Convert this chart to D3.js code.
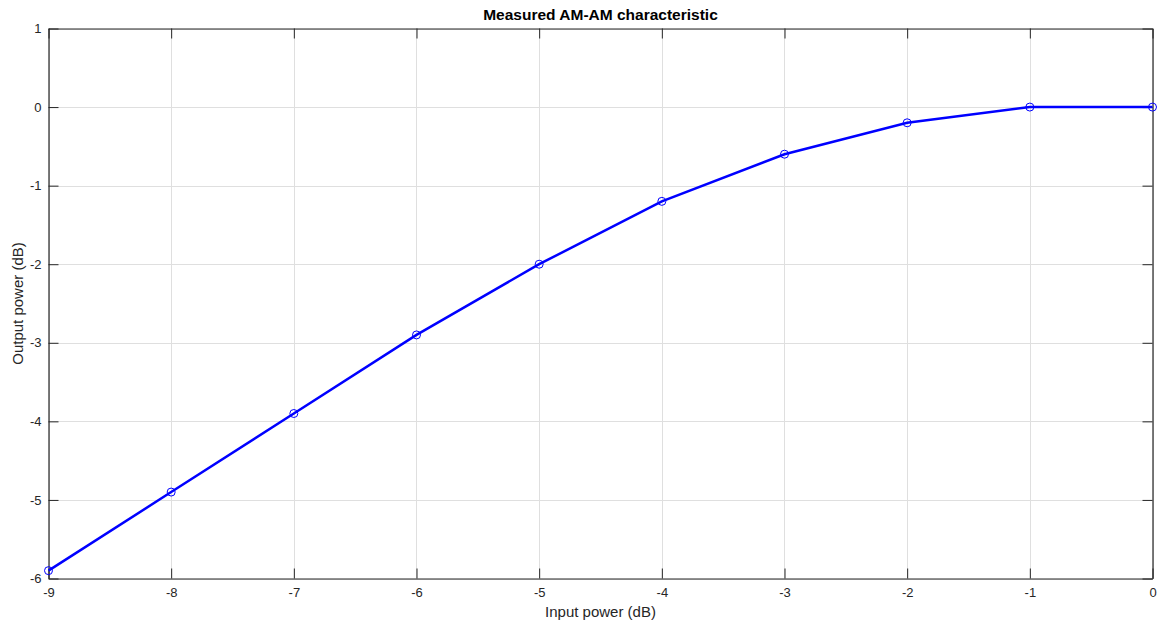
<!DOCTYPE html>
<html><head><meta charset="utf-8">
<script src="https://cdn.jsdelivr.net/npm/d3@7"></script>
<style>
body{margin:0;background:#fff;}
text{font-family:"Liberation Sans",Arial,Helvetica,sans-serif;}
</style></head>
<body><svg id="c" width="1157" height="626"></svg>
<script>
const inputPower = [-9, -8, -7, -6, -5, -4, -3, -2, -1, 0];
const outputPower = [-5.9, -4.9, -3.9, -2.9, -2.0, -1.2, -0.6, -0.2, 0, 0];
const xTicks = [-9, -8, -7, -6, -5, -4, -3, -2, -1, 0];
const yTicks = [-6, -5, -4, -3, -2, -1, 0, 1];

const L = 48.5, R = 1152.5, T = 28.5, B = 578.5;
const svg = d3.select("#c");
const x = d3.scaleLinear().domain([-9, 0]).range([L, R]);
const y = d3.scaleLinear().domain([-6, 1]).range([B, T]);
const axisCol = "#262626";
const fmt = d => String(d);

// grid
const g = svg.append("g");
g.selectAll(".gx").data(xTicks).join("line")
  .attr("x1", d => Math.round(x(d)) + 0.5).attr("x2", d => Math.round(x(d)) + 0.5)
  .attr("y1", T).attr("y2", B).attr("stroke", "#dfdfdf").attr("stroke-width", 1);
g.selectAll(".gy").data(yTicks).join("line")
  .attr("y1", d => Math.round(y(d)) + 0.5).attr("y2", d => Math.round(y(d)) + 0.5)
  .attr("x1", L).attr("x2", R).attr("stroke", "#dfdfdf").attr("stroke-width", 1);

// axes
const tickLen = 10;
const xb = svg.append("g").attr("transform", `translate(0,${B})`)
  .call(d3.axisBottom(x).tickValues(xTicks).tickSizeInner(-tickLen).tickSizeOuter(0).tickFormat(fmt));
const xt = svg.append("g").attr("transform", `translate(0,${T})`)
  .call(d3.axisTop(x).tickValues(xTicks).tickSizeInner(-tickLen).tickSizeOuter(0).tickFormat(""));
const yl = svg.append("g").attr("transform", `translate(${L},0)`)
  .call(d3.axisLeft(y).tickValues(yTicks).tickSizeInner(-tickLen).tickSizeOuter(0).tickFormat(fmt));
const yr = svg.append("g").attr("transform", `translate(${R},0)`)
  .call(d3.axisRight(y).tickValues(yTicks).tickSizeInner(-tickLen).tickSizeOuter(0).tickFormat(""));
[xb, xt, yl, yr].forEach(a => {
  a.selectAll("path").attr("stroke", axisCol).attr("stroke-width", 1.2);
  a.selectAll("line").attr("stroke", axisCol).attr("stroke-width", 1);
  a.selectAll("text").attr("fill", axisCol).attr("font-size", 13).style("font-family", '"Liberation Sans",Arial,sans-serif');
});
xb.selectAll("text").attr("dy", "0.71em").attr("y", 9);
yl.selectAll("text").attr("x", -7);

// line
const pts = inputPower.map((v, i) => [v, outputPower[i]]);
svg.append("path").datum(pts)
  .attr("fill", "none").attr("stroke", "#0000ff").attr("stroke-width", 2.5)
  .attr("d", d3.line().x(d => x(d[0])).y(d => y(d[1])));
svg.selectAll(".m").data(pts).join("circle")
  .attr("cx", d => x(d[0])).attr("cy", d => y(d[1])).attr("r", 4)
  .attr("fill", "none").attr("stroke", "#0000ff").attr("stroke-width", 1);

// labels
svg.append("text").attr("x", (L + R) / 2).attr("y", 20).attr("text-anchor", "middle")
  .attr("font-size", 15.5).attr("font-weight", "bold").attr("fill", "#000").text("Measured AM-AM characteristic");
svg.append("text").attr("x", (L + R) / 2).attr("y", 617).attr("text-anchor", "middle")
  .attr("font-size", 15).attr("fill", axisCol).text("Input power (dB)");
svg.append("text").attr("transform", `translate(23,${(T + B) / 2}) rotate(-90)`).attr("text-anchor", "middle")
  .attr("font-size", 15).attr("fill", axisCol).text("Output power (dB)");
</script></body></html>
